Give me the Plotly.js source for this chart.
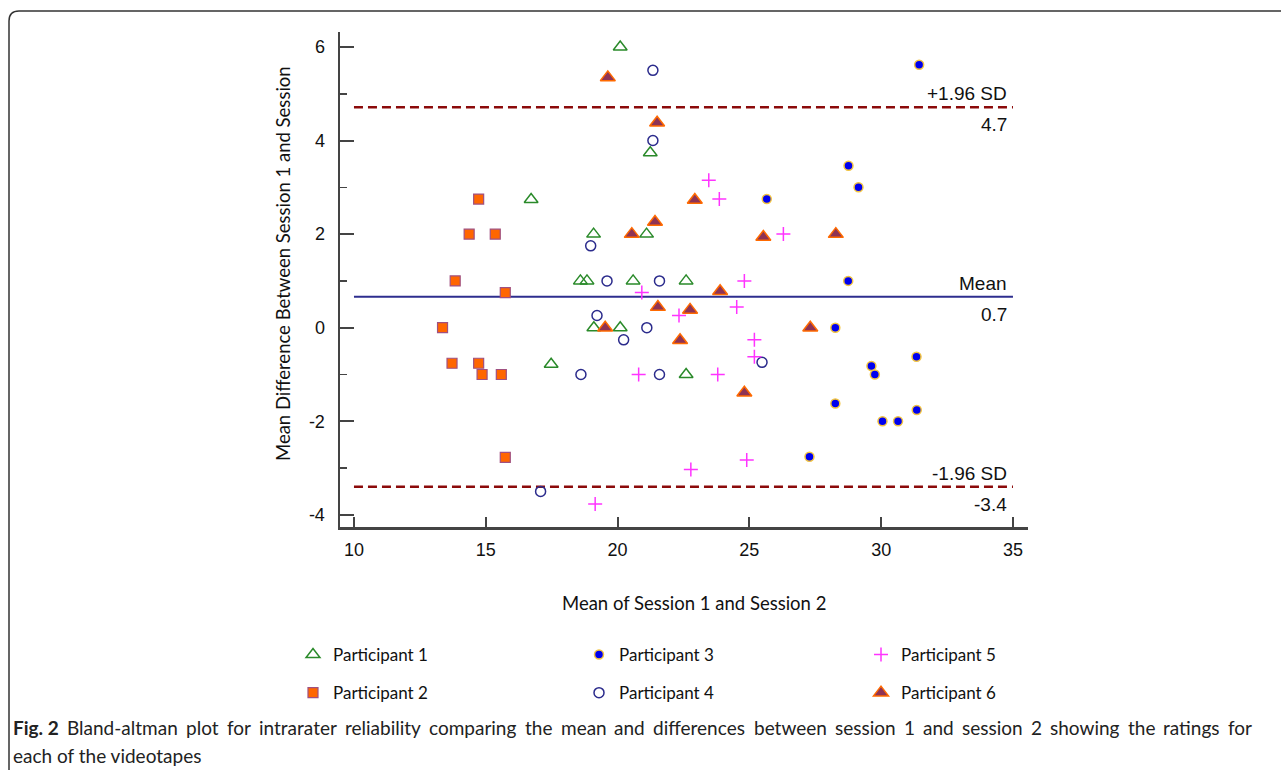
<!DOCTYPE html>
<html>
<head>
<meta charset="utf-8">
<script src="https://cdn.plot.ly/plotly-3.0.1.min.js"></script>
<style>
html,body{margin:0;padding:0;background:#fff;}
#chart{width:1281px;height:772px;}
</style>
</head>
<body>
<div id="chart"></div>
<script>
// Participant data: mean of sessions (x) and difference (y)
const p1x = [20.1, 21.24, 16.72, 19.09, 21.1, 18.59, 18.84, 20.59, 22.6, 19.1, 20.1, 17.48, 22.6];
const p1y = [6.0, 3.74, 2.74, 2.0, 2.0, 1.0, 1.0, 1.0, 1.0, 0.0, 0.0, -0.78, -1.0];

const p2x = [14.73, 14.37, 15.36, 13.84, 15.74, 13.36, 13.72, 14.73, 14.86, 15.59, 15.74];
const p2y = [2.75, 2.0, 2.0, 1.0, 0.75, 0.0, -0.76, -0.76, -1.0, -1.0, -2.77];

const p3x = [31.44, 28.76, 29.14, 25.66, 28.75, 28.26, 29.63, 29.76, 31.34, 28.26, 30.05, 30.64, 31.35, 27.28];
const p3y = [5.62, 3.46, 3.0, 2.75, 1.0, 0.0, -0.82, -1.0, -0.62, -1.62, -2.0, -2.0, -1.76, -2.76];

const p4x = [21.34, 21.34, 18.98, 19.6, 21.59, 19.22, 21.11, 20.23, 18.61, 21.59, 25.48, 17.08];
const p4y = [5.5, 4.0, 1.75, 1.0, 1.0, 0.26, 0.0, -0.26, -1.0, -1.0, -0.74, -3.5];

const p5x = [23.46, 23.86, 26.29, 24.81, 20.92, 24.52, 22.33, 25.19, 25.19, 20.8, 23.8, 22.78, 24.9, 19.15];
const p5y = [3.15, 2.75, 2.0, 1.0, 0.75, 0.44, 0.26, -0.26, -0.62, -1.0, -1.0, -3.03, -2.83, -3.77];

const p6x = [19.63, 21.5, 21.42, 20.54, 22.93, 25.53, 28.28, 23.89, 21.53, 22.75, 19.53, 27.31, 22.37, 24.81];
const p6y = [5.35, 4.38, 2.26, 2.0, 2.73, 1.94, 2.0, 0.78, 0.44, 0.38, 0.0, 0.0, -0.27, -1.39];

// Reference lines
const lineX = [10, 35];
const meanDiff = 0.66;
const upperLoA = 4.71;
const lowerLoA = -3.40;
const upperLabel = ["+1.96 SD", "4.7"];
const meanLabel = ["Mean", "0.7"];
const lowerLabel = ["-1.96 SD", "-3.4"];

// Ticks
const xTickVals = [10, 15, 20, 25, 30, 35];
const xTickText = ["10", "15", "20", "25", "30", "35"];
const yTickVals = [-4, -2, 0, 2, 4, 6];
const yTickText = ["-4", "-2", "0", "2", "4", "6"];
const yMinorVals = [-3, -1, 1, 3, 5];

const names = ["Participant 1", "Participant 2", "Participant 3", "Participant 4", "Participant 5", "Participant 6"];

const captionBold = "Fig. 2";
const captionLine1 = "Bland-altman plot for intrarater reliability comparing the mean and differences between session 1 and session 2 showing the ratings for";
const captionLine2 = "each of the videotapes";

const W = 1281, H = 772;
const L = 340, R = 1028, T = 32, B = 527;
const pw = R - L, ph = B - T;
const px = v => (v - L) / pw;
const py = v => (B - v) / ph;

const legFont = {family: "Lato, 'Open Sans', sans-serif", size: 17, color: "#111"};
const armFont = "'Liberation Sans', Arial, sans-serif";

const traces = [
  {x: lineX, y: [upperLoA, upperLoA], mode: "lines", line: {color: "#8b0a0a", width: 2.5, dash: "9px,5px"}, showlegend: false, hoverinfo: "skip"},
  {x: lineX, y: [lowerLoA, lowerLoA], mode: "lines", line: {color: "#8b0a0a", width: 2.5, dash: "9px,5px"}, showlegend: false, hoverinfo: "skip"},
  {x: lineX, y: [meanDiff, meanDiff], mode: "lines", line: {color: "#2e2e8e", width: 2}, showlegend: false, hoverinfo: "skip"},
  {x: p1x, y: p1y, name: names[0], mode: "markers", legend: "legend", legendgroup: "g1",
   marker: {symbol: "triangle-up-open", size: 12, color: "#2a8a2a", line: {width: 1.5, color: "#2a8a2a"}}},
  {x: p2x, y: p2y, name: names[1], mode: "markers", legend: "legend", legendgroup: "g2",
   marker: {symbol: "square", size: 10, color: "#ff6600", line: {width: 1.2, color: "#a05080"}}},
  {x: p3x, y: p3y, name: names[2], mode: "markers", legend: "legend2", legendgroup: "g3",
   marker: {symbol: "circle", size: 9, color: "#0000ee", line: {width: 1.5, color: "#f2c440"}}},
  {x: p4x, y: p4y, name: names[3], mode: "markers", legend: "legend2", legendgroup: "g4",
   marker: {symbol: "circle-open", size: 10, color: "#2b2b8c", line: {width: 1.5, color: "#2b2b8c"}}},
  {x: p5x, y: p5y, name: names[4], mode: "markers", legend: "legend3", legendgroup: "g5",
   marker: {symbol: "cross-thin-open", size: 10, color: "#ff33ff", line: {width: 1.5, color: "#ff33ff"}}},
  {x: p6x, y: p6y, name: names[5], mode: "markers", legend: "legend3", legendgroup: "g6",
   marker: {symbol: "triangle-up", size: 13, color: "#8e3355", line: {width: 1.5, color: "#ff6a00"}}}
];

const lineLabFont = {family: armFont, size: 19, color: "#111"};
function lab(txt, yv, above) {
  return {xref: "x", yref: "y", x: 34.85, y: yv, text: txt, showarrow: false,
    xanchor: "right", yanchor: above ? "bottom" : "top", yshift: above ? 1 : -5, font: lineLabFont};
}

const capFamily = "Lato, 'Open Sans', sans-serif";
const capLeft = 11, capRight = 1250;
const cvs = document.createElement("canvas").getContext("2d");
function measure(t, bold, size) {
  cvs.font = (bold ? "bold " : "") + size + "px " + capFamily;
  return cvs.measureText(t).width;
}
const capWords = [{t: captionBold, b: true}].concat(captionLine1.split(" ").map(w => ({t: w, b: false})));
// pick the largest size (<= 19px) whose natural line fits, then justify the line as in the source
let capSize = 19;
while (capSize > 12) {
  const nat = capWords.reduce((s, w) => s + measure(w.t, w.b, capSize), 0) + measure(" ", false, capSize) * (capWords.length - 1);
  if (nat <= capRight - capLeft) break;
  capSize -= 0.5;
}
const capFont = {family: capFamily, size: capSize, color: "#222"};
const totalW = capWords.reduce((s, w) => s + measure(w.t, w.b, capSize), 0);
const gap = (capRight - capLeft - totalW) / (capWords.length - 1);
let cx = capLeft;
const capAnn = [];
capWords.forEach(w => {
  capAnn.push({xref: "paper", yref: "paper", x: px(cx), y: py(727), showarrow: false,
    xanchor: "left", yanchor: "middle", text: w.b ? "<b>" + w.t + "</b>" : w.t, font: capFont});
  cx += measure(w.t, w.b, capSize) + gap;
});
capAnn.push({xref: "paper", yref: "paper", x: px(capLeft), y: py(755), showarrow: false,
  xanchor: "left", yanchor: "middle", text: captionLine2, font: capFont});

const legendBase = {orientation: "v", yanchor: "top", xanchor: "left", y: py(637),
  font: legFont, tracegroupgap: 13, bgcolor: "rgba(0,0,0,0)", itemwidth: 30};

const layout = {
  width: W, height: H,
  margin: {l: L, r: W - R, t: T, b: H - B, pad: 0},
  paper_bgcolor: "#fff", plot_bgcolor: "#fff",
  showlegend: true,
  xaxis: {
    range: [9.47, 35.57], showgrid: false, zeroline: false,
    showline: true, linecolor: "#444", linewidth: 2.5,
    ticks: "inside", ticklen: 10, tickwidth: 2, tickcolor: "#444",
    tickmode: "array", tickvals: xTickVals, ticktext: xTickText,
    ticklabelstandoff: 5,
    tickfont: {family: armFont, size: 18, color: "#111"}
  },
  yaxis: {
    range: [-4.26, 6.32], showgrid: false, zeroline: false,
    showline: true, linecolor: "#444", linewidth: 2.5,
    ticks: "inside", ticklen: 14, tickwidth: 2, tickcolor: "#444",
    tickmode: "array", tickvals: yTickVals, ticktext: yTickText,
    ticklabelstandoff: 9,
    minor: {tickmode: "array", tickvals: yMinorVals, ticks: "inside", ticklen: 7, tickwidth: 1.5, tickcolor: "#444", showgrid: false},
    tickfont: {family: armFont, size: 18, color: "#111"}
  },
  legend: Object.assign({}, legendBase, {x: px(293)}),
  legend2: Object.assign({}, legendBase, {x: px(579)}),
  legend3: Object.assign({}, legendBase, {x: px(861)}),
  annotations: [
    lab(upperLabel[0], upperLoA, true), lab(upperLabel[1], upperLoA, false),
    lab(meanLabel[0], meanDiff, true), lab(meanLabel[1], meanDiff, false),
    lab(lowerLabel[0], lowerLoA, true), lab(lowerLabel[1], lowerLoA, false),
    {xref: "paper", yref: "paper", x: px(283), y: py(264), textangle: -90, showarrow: false,
     text: "Mean Difference Between Session 1 and Session", xanchor: "center", yanchor: "middle",
     font: {family: "Lato, 'Open Sans', sans-serif", size: 18.5, color: "#111"}},
    {xref: "paper", yref: "paper", x: px(694), y: py(603), showarrow: false,
     text: "Mean of Session 1 and Session 2", xanchor: "center", yanchor: "middle",
     font: {family: "Lato, 'Open Sans', sans-serif", size: 18.5, color: "#111"}}
  ].concat(capAnn),
  shapes: [
    {type: "path", xref: "paper", yref: "paper", layer: "below",
     path: `M ${px(9)} ${py(770)} L ${px(9)} ${py(21)} Q ${px(9)} ${py(11)} ${px(19)} ${py(11)} L ${px(1290)} ${py(11)}`,
     line: {color: "#333", width: 1.5}}
  ]
};

Plotly.newPlot("chart", traces, layout, {displayModeBar: false, staticPlot: true});
</script>
</body>
</html>
